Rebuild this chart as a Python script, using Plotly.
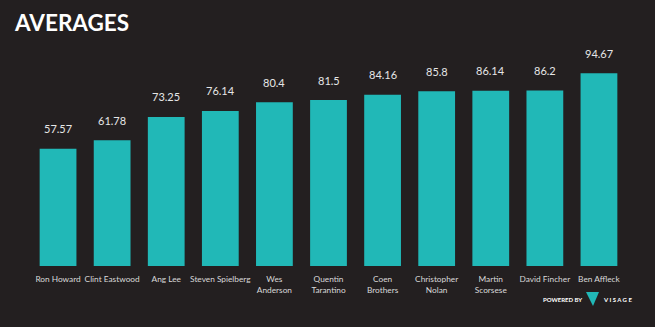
import plotly.graph_objects as go

directors = ["Ron Howard", "Clint Eastwood", "Ang Lee", "Steven Spielberg", "Wes<br>Anderson",
             "Quentin<br>Tarantino", "Coen<br>Brothers", "Christopher<br>Nolan", "Martin<br>Scorsese",
             "David Fincher", "Ben Affleck"]
averages = [57.57, 61.78, 73.25, 76.14, 80.4, 81.5, 84.16, 85.8, 86.14, 86.2, 94.67]
labels = ["57.57", "61.78", "73.25", "76.14", "80.4", "81.5", "84.16", "85.8", "86.14", "86.2", "94.67"]

W, H = 655, 327
BG = "#231f20"
TEAL = "#21b8b7"

fig = go.Figure()
fig.add_trace(go.Bar(x=directors, y=averages, marker=dict(color=TEAL, line=dict(width=0)),
                     hoverinfo="x+y"))

for d, v, t in zip(directors, averages, labels):
    fig.add_annotation(x=d, y=v, text=t, showarrow=False, yshift=20, yanchor="middle",
                       font=dict(family="Lato, Arial", size=11, color="#e6e6e6"))

# plot area: x 31..626, y 50..266
ml, mr, mt, mb = 31, W - 626, 50, H - 266
fig.update_layout(
    width=W, height=H,
    paper_bgcolor=BG, plot_bgcolor=BG,
    margin=dict(l=ml, r=mr, t=mt, b=mb),
    bargap=0.32,
    showlegend=False,
    xaxis=dict(showgrid=False, zeroline=False, showline=False, ticks="", tickangle=0,
               tickfont=dict(family="Lato, Arial", size=8.3, color="#d9d9d9"),
               ticklabelstandoff=7, automargin=False),
    yaxis=dict(range=[0, 106.1], visible=False, showgrid=False, zeroline=False),
    font=dict(family="Lato, Arial", color="#ffffff"),
)

def px(xp):
    return (xp - ml) / (626 - ml)

def py(yp):
    return (266 - yp) / (266 - 50)

fig.add_annotation(xref="paper", yref="paper", x=px(12), y=py(22), xanchor="left", yanchor="middle",
                   text="<b>AVERAGES</b>", showarrow=False,
                   font=dict(family="Lato, Arial", size=22.5, color="#ffffff"))

# powered by visage footer
fig.add_annotation(xref="paper", yref="paper", x=px(584), y=py(299.5), xanchor="right", yanchor="middle",
                   text="<b>POWERED BY</b>", showarrow=False,
                   font=dict(family="Lato, Arial", size=6, color="#ffffff"))
fig.add_annotation(xref="paper", yref="paper", x=px(601), y=py(299.5), xanchor="left", yanchor="middle",
                   text="<b>V I S A G E</b>", showarrow=False,
                   font=dict(family="Lato, Arial", size=6, color="#ffffff"))
path = "M {} {} L {} {} L {} {} Z".format(px(586), py(292), px(599), py(292), px(593), py(306))
fig.add_shape(type="path", xref="paper", yref="paper", path=path,
              fillcolor=TEAL, line=dict(width=0))

fig.write_html("out.html")
